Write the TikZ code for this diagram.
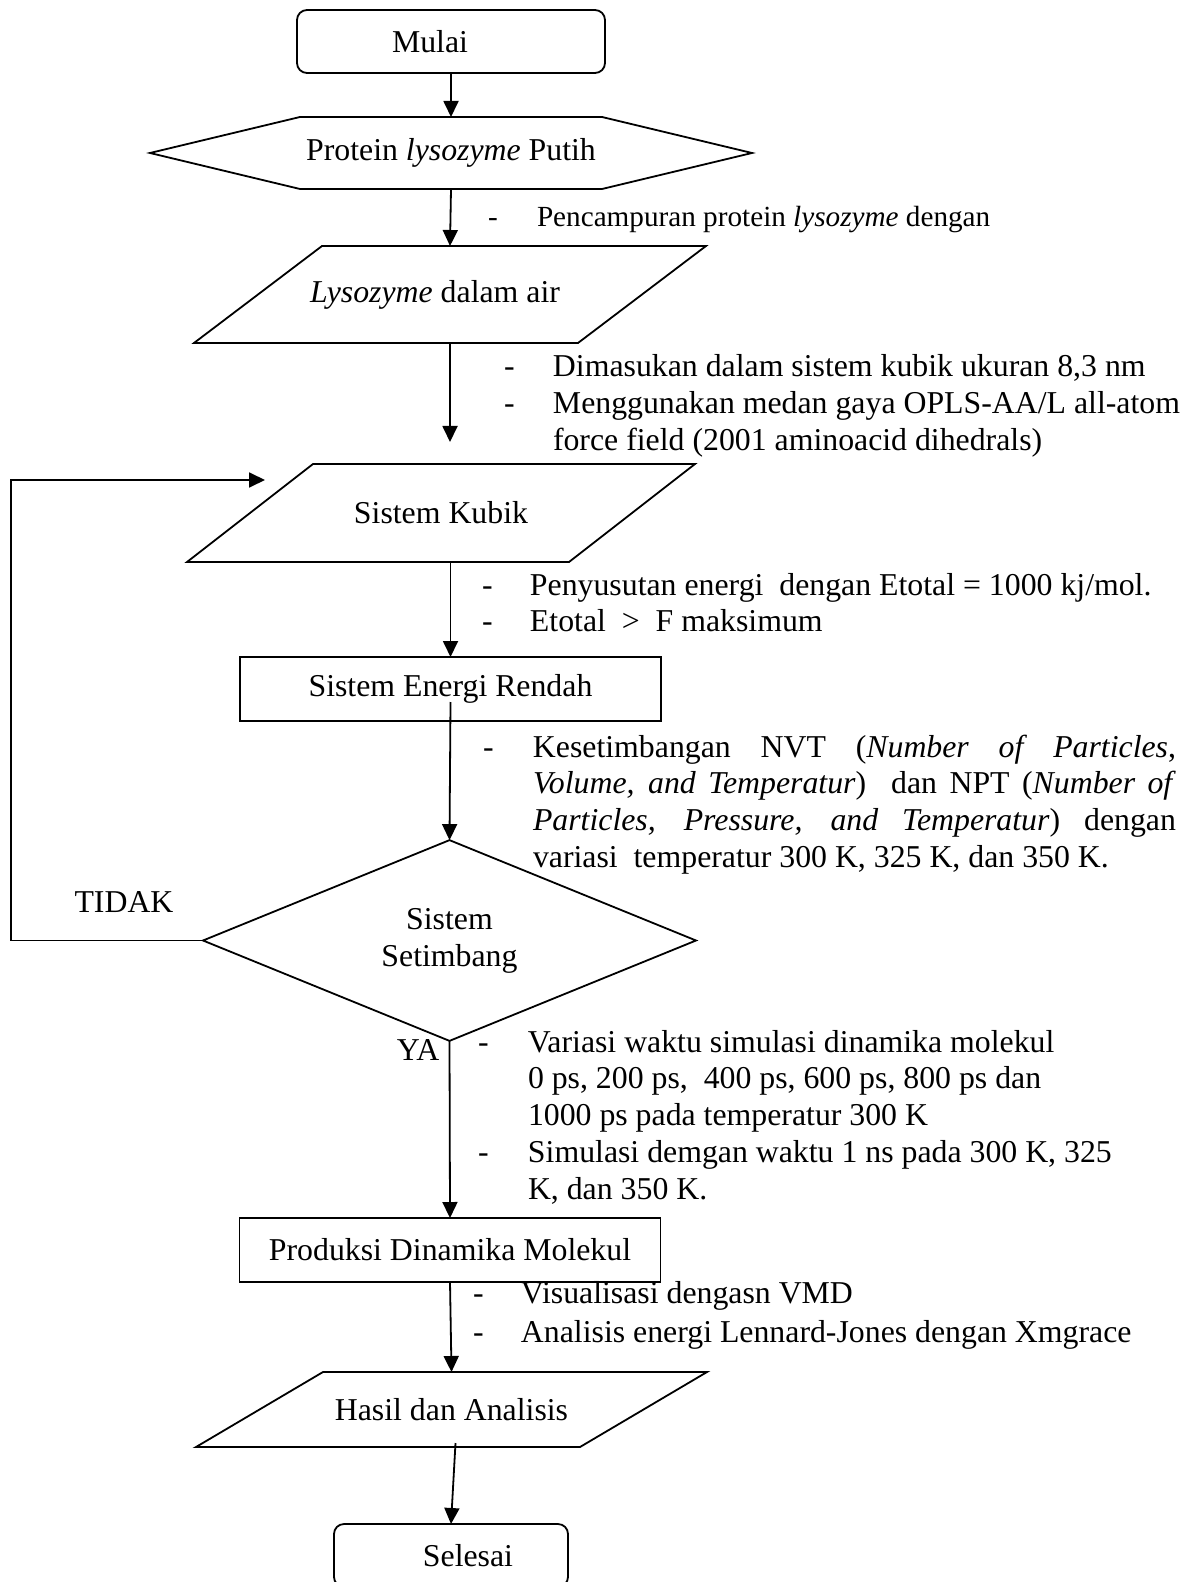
\documentclass[tikz,border=0pt]{standalone}
\usepackage{fontspec}
\setmainfont{Liberation Serif}
\usetikzlibrary{arrows.meta,shapes.geometric,calc}

\tikzset{
  terminal/.style={draw,rectangle,rounded corners=5pt,inner sep=0pt,outer sep=0pt},
  proses/.style={draw,rectangle,minimum width=210.5pt,minimum height=32pt,inner sep=0pt,outer sep=0pt},
  badan/.style={rectangle,inner sep=0pt,outer sep=0pt},
  keputusan/.style={draw,diamond,align=center,minimum width=246.5pt,minimum height=81.5pt,inner sep=0pt,outer sep=0pt},
  ket/.style={anchor=base west,inner sep=0pt,outer sep=0pt}
}
% jajaran genjang dari node #1 dengan geser setengah #2
\newcommand{\genjang}[2]{\draw ([xshift=#2]#1.north west)--([xshift=#2]#1.north east)
  --([xshift=-#2]#1.south east)--([xshift=-#2]#1.south west)--cycle;}

\begin{document}
\begin{tikzpicture}[x=0.5pt,y=-0.5pt,line width=0.9pt,>={Triangle[width=7.5pt,length=8pt]},
  every node/.style={font=\fontsize{15.9}{18.4}\selectfont}]
\useasboundingbox (0,0) rectangle (1197,1582);

% bentuk bagan alir
\node[terminal,minimum width=154pt,minimum height=31.5pt] (mulai) at (451,41.5) {Mulai\rule{21pt}{0pt}};
\node[badan,minimum width=151pt,minimum height=36pt] (protein) at (451,153) {Protein \textit{lysozyme} Putih};
\draw (protein.north west)--(protein.north east)--([xshift=75pt]protein.east)--(protein.south east)
  --(protein.south west)--([xshift=-75pt]protein.west)--cycle;
\node[badan,minimum width=192pt,minimum height=48.5pt] (lisozim) at (450,294.5) {\textit{Lysozyme} dalam air\rule{15pt}{0pt}};
\genjang{lisozim}{32pt}
\node[badan,minimum width=191pt,minimum height=49pt] (kubik) at (441,513) {Sistem Kubik};
\genjang{kubik}{31.5pt}
\node[proses] (erendah) at (450.5,689) {Sistem Energi Rendah};
\node[keputusan] (setimbang) at (449.5,940.5) {Sistem\\Setimbang};
\node[proses] (produksi) at (450,1250) {Produksi Dinamika Molekul};
\node[badan,minimum width=192pt,minimum height=37.5pt] (hasil) at (451.5,1409.5) {Hasil dan Analisis};
\genjang{hasil}{31.75pt}
\node[terminal,minimum width=117pt,minimum height=31.5pt] (selesai) at (451,1555.5) {\rule{17pt}{0pt}Selesai};

\node (tidak) at (124,902) {TIDAK};
\node (ya) at (418,1050) {YA};

% keterangan tiap tahap
\node[ket] (ket1) at (488,227) {\fontsize{14.6}{17}\selectfont\begin{tabular}[t]{@{}p{24.5pt}@{}l@{}}
-&Pencampuran protein \textit{lysozyme} dengan\end{tabular}};
\node[ket] (ket2) at (504,377) {\begin{tabular}[t]{@{}p{24.5pt}@{}l@{}}
-&Dimasukan dalam sistem kubik ukuran 8,3 nm\\
-&Menggunakan medan gaya OPLS-AA/L all-atom\\
&force field (2001 aminoacid dihedrals)\end{tabular}};
\node[ket] (ket3) at (482,595) {\begin{tabular}[t]{@{}p{24pt}@{}l@{}}
-&Penyusutan energi\ \ dengan Etotal = 1000 kj/mol.\\
-&Etotal\ \ >\ \ F maksimum\end{tabular}};
\node[ket] (ket4) at (483,757) {\begin{tabular}[t]{@{}p{25pt}@{}p{321.5pt}@{}}
-&Kesetimbangan NVT (\textit{Number of Particles},\linebreak
\textit{Volume, and Temperatur})\ \ dan NPT (\textit{Number of}\linebreak
\textit{Particles, Pressure, and Temperatur}) dengan\linebreak
variasi\ \ temperatur 300 K, 325 K, dan 350 K.\end{tabular}};
\node[ket] (ket5) at (478,1052) {\begin{tabular}[t]{@{}p{25pt}@{}l@{}}
-&Variasi waktu simulasi dinamika molekul\\
&0 ps, 200 ps,\ \ 400 ps, 600 ps, 800 ps dan\\
&1000 ps pada temperatur 300 K\\
-&Simulasi demgan waktu 1 ns pada 300 K, 325\\
&K, dan 350 K.\end{tabular}};
\node[ket] (ket6) at (473,1303) {\begin{tabular}[t]{@{}p{24pt}@{}l@{}}
-&Visualisasi dengasn VMD\\[1.1pt]
-&Analisis energi Lennard-Jones dengan Xmgrace\end{tabular}};

% panah
\coordinate (balik) at (265,480);
\draw[->] (mulai.south)--(protein.north);
\draw[->] (protein.south)--(lisozim.north);
\draw[->] (lisozim.south)--([yshift=11pt]lisozim.south |- kubik.north);
\draw[->] (erendah.north |- kubik.south)--(erendah.north);
\draw[->] ([yshift=-6.5pt]erendah.center)--(setimbang.north);
\draw[->] (setimbang.south)--(produksi.north);
\draw[->] (produksi.south)--(hasil.north);
\draw[->] ([xshift=2pt,yshift=2pt]hasil.south)--(selesai.north);
\draw[->] (setimbang.west)--++(-192,0)|-(balik);
\end{tikzpicture}
\end{document}
